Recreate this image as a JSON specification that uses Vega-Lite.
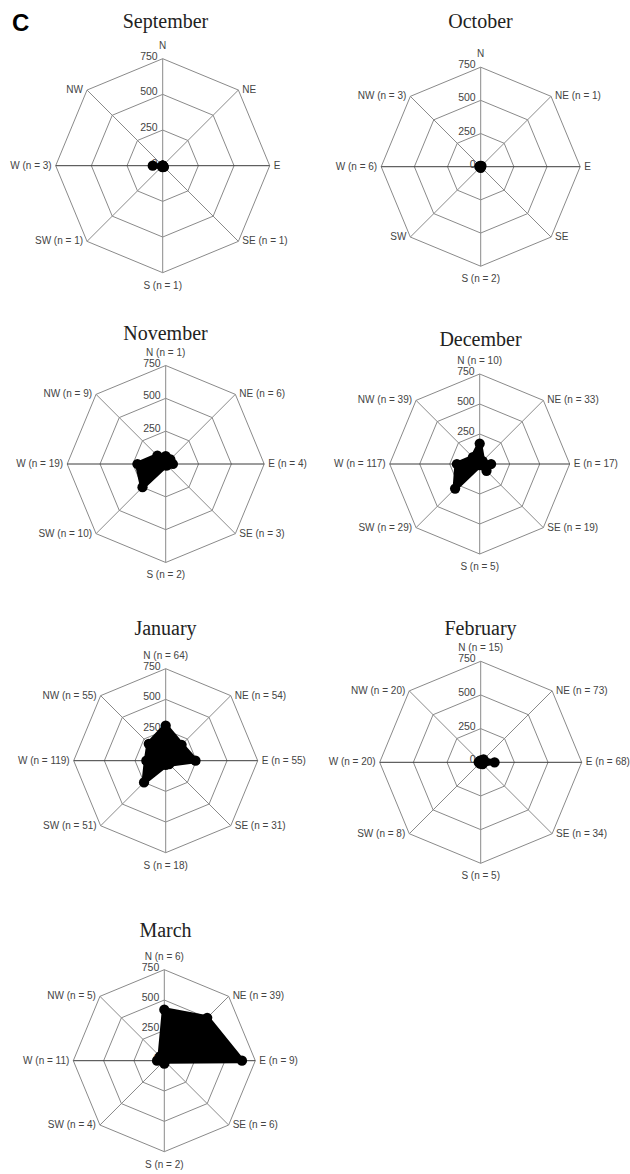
{
"$schema": "https://vega.github.io/schema/vega-lite/v6.json",
"background": "white",
"padding": {"left": 0, "right": 0, "top": 12, "bottom": 0},
"title": {"text": "C", "anchor": "start", "font": "Liberation Sans", "fontSize": 24, "fontWeight": "bold", "color": "#000", "offset": -43, "baseline": "alphabetic", "dx": 12},
"columns": 2,
"spacing": {"row": 26, "column": 0},
"bounds": "flush",
"align": "each",
"datasets": {
"grid": [
{"ring":250,"dir":"N"},{"ring":250,"dir":"NE"},{"ring":250,"dir":"E"},{"ring":250,"dir":"SE"},{"ring":250,"dir":"S"},{"ring":250,"dir":"SW"},{"ring":250,"dir":"W"},{"ring":250,"dir":"NW"},
{"ring":500,"dir":"N"},{"ring":500,"dir":"NE"},{"ring":500,"dir":"E"},{"ring":500,"dir":"SE"},{"ring":500,"dir":"S"},{"ring":500,"dir":"SW"},{"ring":500,"dir":"W"},{"ring":500,"dir":"NW"},
{"ring":750,"dir":"N"},{"ring":750,"dir":"NE"},{"ring":750,"dir":"E"},{"ring":750,"dir":"SE"},{"ring":750,"dir":"S"},{"ring":750,"dir":"SW"},{"ring":750,"dir":"W"},{"ring":750,"dir":"NW"}
],
"ticks": [{"v":0},{"v":250},{"v":500},{"v":750}],
"obs": [
{"month":"September","dir":"N","value":0,"label":"N"},
{"month":"September","dir":"NE","value":0,"label":"NE"},
{"month":"September","dir":"E","value":0,"label":"E"},
{"month":"September","dir":"SE","value":12,"label":"SE (n = 1)"},
{"month":"September","dir":"S","value":10,"label":"S (n = 1)"},
{"month":"September","dir":"SW","value":8,"label":"SW (n = 1)"},
{"month":"September","dir":"W","value":70,"label":"W (n = 3)"},
{"month":"September","dir":"NW","value":0,"label":"NW"},
{"month":"October","dir":"N","value":0,"label":"N"},
{"month":"October","dir":"NE","value":8,"label":"NE (n = 1)"},
{"month":"October","dir":"E","value":0,"label":"E"},
{"month":"October","dir":"SE","value":0,"label":"SE"},
{"month":"October","dir":"S","value":8,"label":"S (n = 2)"},
{"month":"October","dir":"SW","value":0,"label":"SW"},
{"month":"October","dir":"W","value":10,"label":"W (n = 6)"},
{"month":"October","dir":"NW","value":8,"label":"NW (n = 3)"},
{"month":"November","dir":"N","value":60,"label":"N (n = 1)"},
{"month":"November","dir":"NE","value":50,"label":"NE (n = 6)"},
{"month":"November","dir":"E","value":55,"label":"E (n = 4)"},
{"month":"November","dir":"SE","value":15,"label":"SE (n = 3)"},
{"month":"November","dir":"S","value":10,"label":"S (n = 2)"},
{"month":"November","dir":"SW","value":250,"label":"SW (n = 10)"},
{"month":"November","dir":"W","value":215,"label":"W (n = 19)"},
{"month":"November","dir":"NW","value":90,"label":"NW (n = 9)"},
{"month":"December","dir":"N","value":170,"label":"N (n = 10)"},
{"month":"December","dir":"NE","value":35,"label":"NE (n = 33)"},
{"month":"December","dir":"E","value":95,"label":"E (n = 17)"},
{"month":"December","dir":"SE","value":80,"label":"SE (n = 19)"},
{"month":"December","dir":"S","value":10,"label":"S (n = 5)"},
{"month":"December","dir":"SW","value":290,"label":"SW (n = 29)"},
{"month":"December","dir":"W","value":190,"label":"W (n = 117)"},
{"month":"December","dir":"NW","value":80,"label":"NW (n = 39)"},
{"month":"January","dir":"N","value":285,"label":"N (n = 64)"},
{"month":"January","dir":"NE","value":183,"label":"NE (n = 54)"},
{"month":"January","dir":"E","value":243,"label":"E (n = 55)"},
{"month":"January","dir":"SE","value":40,"label":"SE (n = 31)"},
{"month":"January","dir":"S","value":35,"label":"S (n = 18)"},
{"month":"January","dir":"SW","value":250,"label":"SW (n = 51)"},
{"month":"January","dir":"W","value":158,"label":"W (n = 119)"},
{"month":"January","dir":"NW","value":195,"label":"NW (n = 55)"},
{"month":"February","dir":"N","value":15,"label":"N (n = 15)"},
{"month":"February","dir":"NE","value":30,"label":"NE (n = 73)"},
{"month":"February","dir":"E","value":103,"label":"E (n = 68)"},
{"month":"February","dir":"SE","value":20,"label":"SE (n = 34)"},
{"month":"February","dir":"S","value":10,"label":"S (n = 5)"},
{"month":"February","dir":"SW","value":10,"label":"SW (n = 8)"},
{"month":"February","dir":"W","value":15,"label":"W (n = 20)"},
{"month":"February","dir":"NW","value":12,"label":"NW (n = 20)"},
{"month":"March","dir":"N","value":420,"label":"N (n = 6)"},
{"month":"March","dir":"NE","value":500,"label":"NE (n = 39)"},
{"month":"March","dir":"E","value":640,"label":"E (n = 9)"},
{"month":"March","dir":"SE","value":5,"label":"SE (n = 6)"},
{"month":"March","dir":"S","value":25,"label":"S (n = 2)"},
{"month":"March","dir":"SW","value":5,"label":"SW (n = 4)"},
{"month":"March","dir":"W","value":60,"label":"W (n = 11)"},
{"month":"March","dir":"NW","value":50,"label":"NW (n = 5)"}
]
},
"concat": [
{
"width": 315, "height": 292,
"title": {"text": "September"},
"encoding": {
"x": {"field": "px", "type": "quantitative", "axis": null, "scale": {"domain": [-1140.4, 1067.5], "nice": false, "zero": false}},
"y": {"field": "py", "type": "quantitative", "axis": null, "scale": {"domain": [-1137.6, 909.1], "nice": false, "zero": false}}
},
"layer": [
{"data": {"name": "grid"}, "transform": [{"calculate": "indexof(['N','NE','E','SE','S','SW','W','NW'], datum.dir)", "as": "i"}, {"calculate": "datum.ring * sin(datum.i * PI / 4)", "as": "px"}, {"calculate": "datum.ring * cos(datum.i * PI / 4)", "as": "py"}],
 "mark": {"type": "line", "interpolate": "linear-closed", "stroke": "#8a8a8a", "strokeWidth": 1},
 "encoding": {"detail": {"field": "ring", "type": "nominal"}, "order": {"field": "i", "type": "quantitative"}}},
{"data": {"name": "grid"}, "transform": [{"filter": "datum.ring === 750"}, {"calculate": "indexof(['N','NE','E','SE','S','SW','W','NW'], datum.dir)", "as": "i"}, {"calculate": "datum.ring * sin(datum.i * PI / 4)", "as": "px"}, {"calculate": "datum.ring * cos(datum.i * PI / 4)", "as": "py"}],
 "mark": {"type": "rule", "strokeWidth": 1},
 "encoding": {"x2": {"datum": 0}, "y2": {"datum": 0}, "color": {"condition": {"test": "datum.dir === 'E' || datum.dir === 'W'", "value": "#3a3a3a"}, "value": "#8a8a8a"}}},
{"data": {"name": "ticks"}, "transform": [{"calculate": "0", "as": "px"}, {"calculate": "datum.v", "as": "py"}],
 "mark": {"type": "text", "align": "right", "baseline": "middle", "dx": -5, "dy": -2, "fontSize": 10.5, "font": "Liberation Sans", "color": "#444"},
 "encoding": {"text": {"field": "v", "type": "quantitative"}}},
{"data": {"name": "obs"}, "transform": [{"filter": "datum.month === 'September'"}, {"calculate": "indexof(['N','NE','E','SE','S','SW','W','NW'], datum.dir)", "as": "i"}, {"calculate": "datum.value * sin(datum.i * PI / 4)", "as": "px"}, {"calculate": "datum.value * cos(datum.i * PI / 4)", "as": "py"}],
 "mark": {"type": "line", "interpolate": "linear-closed", "fill": "#000", "stroke": "#000", "strokeWidth": 5, "strokeJoin": "round"},
 "encoding": {"order": {"field": "i", "type": "quantitative"}}},
{"data": {"name": "obs"}, "transform": [{"filter": "datum.month === 'September'"}, {"calculate": "indexof(['N','NE','E','SE','S','SW','W','NW'], datum.dir)", "as": "i"}, {"calculate": "datum.value * sin(datum.i * PI / 4)", "as": "px"}, {"calculate": "datum.value * cos(datum.i * PI / 4)", "as": "py"}],
 "mark": {"type": "circle", "size": 105, "color": "#000", "opacity": 1}},
{"data": {"name": "obs"}, "transform": [{"filter": "datum.month === 'September'"}, {"filter": {"field": "dir", "oneOf": ["NE", "E", "SE"]}}, {"calculate": "indexof(['N','NE','E','SE','S','SW','W','NW'], datum.dir)", "as": "i"}, {"calculate": "750 * sin(datum.i * PI / 4)", "as": "px"}, {"calculate": "750 * cos(datum.i * PI / 4)", "as": "py"}],
 "mark": {"type": "text", "align": "left", "baseline": "middle", "dx": 4, "fontSize": 10, "font": "Liberation Sans", "color": "#444"},
 "encoding": {"text": {"field": "label"}}},
{"data": {"name": "obs"}, "transform": [{"filter": "datum.month === 'September'"}, {"filter": {"field": "dir", "oneOf": ["SW", "W", "NW"]}}, {"calculate": "indexof(['N','NE','E','SE','S','SW','W','NW'], datum.dir)", "as": "i"}, {"calculate": "750 * sin(datum.i * PI / 4)", "as": "px"}, {"calculate": "750 * cos(datum.i * PI / 4)", "as": "py"}],
 "mark": {"type": "text", "align": "right", "baseline": "middle", "dx": -4, "fontSize": 10, "font": "Liberation Sans", "color": "#444"},
 "encoding": {"text": {"field": "label"}}},
{"data": {"name": "obs"}, "transform": [{"filter": "datum.month === 'September' && datum.dir === 'N'"}, {"calculate": "0", "as": "px"}, {"calculate": "750", "as": "py"}],
 "mark": {"type": "text", "align": "center", "baseline": "middle", "dy": -13, "fontSize": 10, "font": "Liberation Sans", "color": "#444"},
 "encoding": {"text": {"field": "label"}}},
{"data": {"name": "obs"}, "transform": [{"filter": "datum.month === 'September' && datum.dir === 'S'"}, {"calculate": "0", "as": "px"}, {"calculate": "-750", "as": "py"}],
 "mark": {"type": "text", "align": "center", "baseline": "middle", "dy": 13, "fontSize": 10, "font": "Liberation Sans", "color": "#444"},
 "encoding": {"text": {"field": "label"}}}
]
},
{
"width": 315, "height": 292,
"title": {"text": "October"},
"encoding": {
"x": {"field": "px", "type": "quantitative", "axis": null, "scale": {"domain": [-1249.0, 1125.4], "nice": false, "zero": false}},
"y": {"field": "py", "type": "quantitative", "axis": null, "scale": {"domain": [-1215.8, 985.2], "nice": false, "zero": false}}
},
"layer": [
{"data": {"name": "grid"}, "transform": [{"calculate": "indexof(['N','NE','E','SE','S','SW','W','NW'], datum.dir)", "as": "i"}, {"calculate": "datum.ring * sin(datum.i * PI / 4)", "as": "px"}, {"calculate": "datum.ring * cos(datum.i * PI / 4)", "as": "py"}],
 "mark": {"type": "line", "interpolate": "linear-closed", "stroke": "#8a8a8a", "strokeWidth": 1},
 "encoding": {"detail": {"field": "ring", "type": "nominal"}, "order": {"field": "i", "type": "quantitative"}}},
{"data": {"name": "grid"}, "transform": [{"filter": "datum.ring === 750"}, {"calculate": "indexof(['N','NE','E','SE','S','SW','W','NW'], datum.dir)", "as": "i"}, {"calculate": "datum.ring * sin(datum.i * PI / 4)", "as": "px"}, {"calculate": "datum.ring * cos(datum.i * PI / 4)", "as": "py"}],
 "mark": {"type": "rule", "strokeWidth": 1},
 "encoding": {"x2": {"datum": 0}, "y2": {"datum": 0}, "color": {"condition": {"test": "datum.dir === 'E' || datum.dir === 'W'", "value": "#3a3a3a"}, "value": "#8a8a8a"}}},
{"data": {"name": "ticks"}, "transform": [{"calculate": "0", "as": "px"}, {"calculate": "datum.v", "as": "py"}],
 "mark": {"type": "text", "align": "right", "baseline": "middle", "dx": -5, "dy": -2, "fontSize": 10.5, "font": "Liberation Sans", "color": "#444"},
 "encoding": {"text": {"field": "v", "type": "quantitative"}}},
{"data": {"name": "obs"}, "transform": [{"filter": "datum.month === 'October'"}, {"calculate": "indexof(['N','NE','E','SE','S','SW','W','NW'], datum.dir)", "as": "i"}, {"calculate": "datum.value * sin(datum.i * PI / 4)", "as": "px"}, {"calculate": "datum.value * cos(datum.i * PI / 4)", "as": "py"}],
 "mark": {"type": "line", "interpolate": "linear-closed", "fill": "#000", "stroke": "#000", "strokeWidth": 5, "strokeJoin": "round"},
 "encoding": {"order": {"field": "i", "type": "quantitative"}}},
{"data": {"name": "obs"}, "transform": [{"filter": "datum.month === 'October'"}, {"calculate": "indexof(['N','NE','E','SE','S','SW','W','NW'], datum.dir)", "as": "i"}, {"calculate": "datum.value * sin(datum.i * PI / 4)", "as": "px"}, {"calculate": "datum.value * cos(datum.i * PI / 4)", "as": "py"}],
 "mark": {"type": "circle", "size": 105, "color": "#000", "opacity": 1}},
{"data": {"name": "obs"}, "transform": [{"filter": "datum.month === 'October'"}, {"filter": {"field": "dir", "oneOf": ["NE", "E", "SE"]}}, {"calculate": "indexof(['N','NE','E','SE','S','SW','W','NW'], datum.dir)", "as": "i"}, {"calculate": "750 * sin(datum.i * PI / 4)", "as": "px"}, {"calculate": "750 * cos(datum.i * PI / 4)", "as": "py"}],
 "mark": {"type": "text", "align": "left", "baseline": "middle", "dx": 4, "fontSize": 10, "font": "Liberation Sans", "color": "#444"},
 "encoding": {"text": {"field": "label"}}},
{"data": {"name": "obs"}, "transform": [{"filter": "datum.month === 'October'"}, {"filter": {"field": "dir", "oneOf": ["SW", "W", "NW"]}}, {"calculate": "indexof(['N','NE','E','SE','S','SW','W','NW'], datum.dir)", "as": "i"}, {"calculate": "750 * sin(datum.i * PI / 4)", "as": "px"}, {"calculate": "750 * cos(datum.i * PI / 4)", "as": "py"}],
 "mark": {"type": "text", "align": "right", "baseline": "middle", "dx": -4, "fontSize": 10, "font": "Liberation Sans", "color": "#444"},
 "encoding": {"text": {"field": "label"}}},
{"data": {"name": "obs"}, "transform": [{"filter": "datum.month === 'October' && datum.dir === 'N'"}, {"calculate": "0", "as": "px"}, {"calculate": "750", "as": "py"}],
 "mark": {"type": "text", "align": "center", "baseline": "middle", "dy": -13, "fontSize": 10, "font": "Liberation Sans", "color": "#444"},
 "encoding": {"text": {"field": "label"}}},
{"data": {"name": "obs"}, "transform": [{"filter": "datum.month === 'October' && datum.dir === 'S'"}, {"calculate": "0", "as": "px"}, {"calculate": "-750", "as": "py"}],
 "mark": {"type": "text", "align": "center", "baseline": "middle", "dy": 13, "fontSize": 10, "font": "Liberation Sans", "color": "#444"},
 "encoding": {"text": {"field": "label"}}}
]
},
{
"width": 315, "height": 263,
"title": {"text": "November"},
"encoding": {
"x": {"field": "px", "type": "quantitative", "axis": null, "scale": {"domain": [-1261.7, 1136.8], "nice": false, "zero": false}},
"y": {"field": "py", "type": "quantitative", "axis": null, "scale": {"domain": [-1165.0, 837.6], "nice": false, "zero": false}}
},
"layer": [
{"data": {"name": "grid"}, "transform": [{"calculate": "indexof(['N','NE','E','SE','S','SW','W','NW'], datum.dir)", "as": "i"}, {"calculate": "datum.ring * sin(datum.i * PI / 4)", "as": "px"}, {"calculate": "datum.ring * cos(datum.i * PI / 4)", "as": "py"}],
 "mark": {"type": "line", "interpolate": "linear-closed", "stroke": "#8a8a8a", "strokeWidth": 1},
 "encoding": {"detail": {"field": "ring", "type": "nominal"}, "order": {"field": "i", "type": "quantitative"}}},
{"data": {"name": "grid"}, "transform": [{"filter": "datum.ring === 750"}, {"calculate": "indexof(['N','NE','E','SE','S','SW','W','NW'], datum.dir)", "as": "i"}, {"calculate": "datum.ring * sin(datum.i * PI / 4)", "as": "px"}, {"calculate": "datum.ring * cos(datum.i * PI / 4)", "as": "py"}],
 "mark": {"type": "rule", "strokeWidth": 1},
 "encoding": {"x2": {"datum": 0}, "y2": {"datum": 0}, "color": {"condition": {"test": "datum.dir === 'E' || datum.dir === 'W'", "value": "#3a3a3a"}, "value": "#8a8a8a"}}},
{"data": {"name": "ticks"}, "transform": [{"calculate": "0", "as": "px"}, {"calculate": "datum.v", "as": "py"}],
 "mark": {"type": "text", "align": "right", "baseline": "middle", "dx": -5, "dy": -2, "fontSize": 10.5, "font": "Liberation Sans", "color": "#444"},
 "encoding": {"text": {"field": "v", "type": "quantitative"}}},
{"data": {"name": "obs"}, "transform": [{"filter": "datum.month === 'November'"}, {"calculate": "indexof(['N','NE','E','SE','S','SW','W','NW'], datum.dir)", "as": "i"}, {"calculate": "datum.value * sin(datum.i * PI / 4)", "as": "px"}, {"calculate": "datum.value * cos(datum.i * PI / 4)", "as": "py"}],
 "mark": {"type": "line", "interpolate": "linear-closed", "fill": "#000", "stroke": "#000", "strokeWidth": 5, "strokeJoin": "round"},
 "encoding": {"order": {"field": "i", "type": "quantitative"}}},
{"data": {"name": "obs"}, "transform": [{"filter": "datum.month === 'November'"}, {"calculate": "indexof(['N','NE','E','SE','S','SW','W','NW'], datum.dir)", "as": "i"}, {"calculate": "datum.value * sin(datum.i * PI / 4)", "as": "px"}, {"calculate": "datum.value * cos(datum.i * PI / 4)", "as": "py"}],
 "mark": {"type": "circle", "size": 105, "color": "#000", "opacity": 1}},
{"data": {"name": "obs"}, "transform": [{"filter": "datum.month === 'November'"}, {"filter": {"field": "dir", "oneOf": ["NE", "E", "SE"]}}, {"calculate": "indexof(['N','NE','E','SE','S','SW','W','NW'], datum.dir)", "as": "i"}, {"calculate": "750 * sin(datum.i * PI / 4)", "as": "px"}, {"calculate": "750 * cos(datum.i * PI / 4)", "as": "py"}],
 "mark": {"type": "text", "align": "left", "baseline": "middle", "dx": 4, "fontSize": 10, "font": "Liberation Sans", "color": "#444"},
 "encoding": {"text": {"field": "label"}}},
{"data": {"name": "obs"}, "transform": [{"filter": "datum.month === 'November'"}, {"filter": {"field": "dir", "oneOf": ["SW", "W", "NW"]}}, {"calculate": "indexof(['N','NE','E','SE','S','SW','W','NW'], datum.dir)", "as": "i"}, {"calculate": "750 * sin(datum.i * PI / 4)", "as": "px"}, {"calculate": "750 * cos(datum.i * PI / 4)", "as": "py"}],
 "mark": {"type": "text", "align": "right", "baseline": "middle", "dx": -4, "fontSize": 10, "font": "Liberation Sans", "color": "#444"},
 "encoding": {"text": {"field": "label"}}},
{"data": {"name": "obs"}, "transform": [{"filter": "datum.month === 'November' && datum.dir === 'N'"}, {"calculate": "0", "as": "px"}, {"calculate": "750", "as": "py"}],
 "mark": {"type": "text", "align": "center", "baseline": "middle", "dy": -13, "fontSize": 10, "font": "Liberation Sans", "color": "#444"},
 "encoding": {"text": {"field": "label"}}},
{"data": {"name": "obs"}, "transform": [{"filter": "datum.month === 'November' && datum.dir === 'S'"}, {"calculate": "0", "as": "px"}, {"calculate": "-750", "as": "py"}],
 "mark": {"type": "text", "align": "center", "baseline": "middle", "dy": 13, "fontSize": 10, "font": "Liberation Sans", "color": "#444"},
 "encoding": {"text": {"field": "label"}}}
]
},
{
"width": 315, "height": 263,
"title": {"text": "December"},
"encoding": {
"x": {"field": "px", "type": "quantitative", "axis": null, "scale": {"domain": [-1372.5, 1252.5], "nice": false, "zero": false}},
"y": {"field": "py", "type": "quantitative", "axis": null, "scale": {"domain": [-1275.0, 916.7], "nice": false, "zero": false}}
},
"layer": [
{"data": {"name": "grid"}, "transform": [{"calculate": "indexof(['N','NE','E','SE','S','SW','W','NW'], datum.dir)", "as": "i"}, {"calculate": "datum.ring * sin(datum.i * PI / 4)", "as": "px"}, {"calculate": "datum.ring * cos(datum.i * PI / 4)", "as": "py"}],
 "mark": {"type": "line", "interpolate": "linear-closed", "stroke": "#8a8a8a", "strokeWidth": 1},
 "encoding": {"detail": {"field": "ring", "type": "nominal"}, "order": {"field": "i", "type": "quantitative"}}},
{"data": {"name": "grid"}, "transform": [{"filter": "datum.ring === 750"}, {"calculate": "indexof(['N','NE','E','SE','S','SW','W','NW'], datum.dir)", "as": "i"}, {"calculate": "datum.ring * sin(datum.i * PI / 4)", "as": "px"}, {"calculate": "datum.ring * cos(datum.i * PI / 4)", "as": "py"}],
 "mark": {"type": "rule", "strokeWidth": 1},
 "encoding": {"x2": {"datum": 0}, "y2": {"datum": 0}, "color": {"condition": {"test": "datum.dir === 'E' || datum.dir === 'W'", "value": "#3a3a3a"}, "value": "#8a8a8a"}}},
{"data": {"name": "ticks"}, "transform": [{"calculate": "0", "as": "px"}, {"calculate": "datum.v", "as": "py"}],
 "mark": {"type": "text", "align": "right", "baseline": "middle", "dx": -5, "dy": -2, "fontSize": 10.5, "font": "Liberation Sans", "color": "#444"},
 "encoding": {"text": {"field": "v", "type": "quantitative"}}},
{"data": {"name": "obs"}, "transform": [{"filter": "datum.month === 'December'"}, {"calculate": "indexof(['N','NE','E','SE','S','SW','W','NW'], datum.dir)", "as": "i"}, {"calculate": "datum.value * sin(datum.i * PI / 4)", "as": "px"}, {"calculate": "datum.value * cos(datum.i * PI / 4)", "as": "py"}],
 "mark": {"type": "line", "interpolate": "linear-closed", "fill": "#000", "stroke": "#000", "strokeWidth": 5, "strokeJoin": "round"},
 "encoding": {"order": {"field": "i", "type": "quantitative"}}},
{"data": {"name": "obs"}, "transform": [{"filter": "datum.month === 'December'"}, {"calculate": "indexof(['N','NE','E','SE','S','SW','W','NW'], datum.dir)", "as": "i"}, {"calculate": "datum.value * sin(datum.i * PI / 4)", "as": "px"}, {"calculate": "datum.value * cos(datum.i * PI / 4)", "as": "py"}],
 "mark": {"type": "circle", "size": 105, "color": "#000", "opacity": 1}},
{"data": {"name": "obs"}, "transform": [{"filter": "datum.month === 'December'"}, {"filter": {"field": "dir", "oneOf": ["NE", "E", "SE"]}}, {"calculate": "indexof(['N','NE','E','SE','S','SW','W','NW'], datum.dir)", "as": "i"}, {"calculate": "750 * sin(datum.i * PI / 4)", "as": "px"}, {"calculate": "750 * cos(datum.i * PI / 4)", "as": "py"}],
 "mark": {"type": "text", "align": "left", "baseline": "middle", "dx": 4, "fontSize": 10, "font": "Liberation Sans", "color": "#444"},
 "encoding": {"text": {"field": "label"}}},
{"data": {"name": "obs"}, "transform": [{"filter": "datum.month === 'December'"}, {"filter": {"field": "dir", "oneOf": ["SW", "W", "NW"]}}, {"calculate": "indexof(['N','NE','E','SE','S','SW','W','NW'], datum.dir)", "as": "i"}, {"calculate": "750 * sin(datum.i * PI / 4)", "as": "px"}, {"calculate": "750 * cos(datum.i * PI / 4)", "as": "py"}],
 "mark": {"type": "text", "align": "right", "baseline": "middle", "dx": -4, "fontSize": 10, "font": "Liberation Sans", "color": "#444"},
 "encoding": {"text": {"field": "label"}}},
{"data": {"name": "obs"}, "transform": [{"filter": "datum.month === 'December' && datum.dir === 'N'"}, {"calculate": "0", "as": "px"}, {"calculate": "750", "as": "py"}],
 "mark": {"type": "text", "align": "center", "baseline": "middle", "dy": -13, "fontSize": 10, "font": "Liberation Sans", "color": "#444"},
 "encoding": {"text": {"field": "label"}}},
{"data": {"name": "obs"}, "transform": [{"filter": "datum.month === 'December' && datum.dir === 'S'"}, {"calculate": "0", "as": "px"}, {"calculate": "-750", "as": "py"}],
 "mark": {"type": "text", "align": "center", "baseline": "middle", "dy": 13, "fontSize": 10, "font": "Liberation Sans", "color": "#444"},
 "encoding": {"text": {"field": "label"}}}
]
},
{
"width": 315, "height": 276,
"title": {"text": "January"},
"encoding": {
"x": {"field": "px", "type": "quantitative", "axis": null, "scale": {"domain": [-1350.8, 1217.1], "nice": false, "zero": false}},
"y": {"field": "py", "type": "quantitative", "axis": null, "scale": {"domain": [-1290.5, 959.5], "nice": false, "zero": false}}
},
"layer": [
{"data": {"name": "grid"}, "transform": [{"calculate": "indexof(['N','NE','E','SE','S','SW','W','NW'], datum.dir)", "as": "i"}, {"calculate": "datum.ring * sin(datum.i * PI / 4)", "as": "px"}, {"calculate": "datum.ring * cos(datum.i * PI / 4)", "as": "py"}],
 "mark": {"type": "line", "interpolate": "linear-closed", "stroke": "#8a8a8a", "strokeWidth": 1},
 "encoding": {"detail": {"field": "ring", "type": "nominal"}, "order": {"field": "i", "type": "quantitative"}}},
{"data": {"name": "grid"}, "transform": [{"filter": "datum.ring === 750"}, {"calculate": "indexof(['N','NE','E','SE','S','SW','W','NW'], datum.dir)", "as": "i"}, {"calculate": "datum.ring * sin(datum.i * PI / 4)", "as": "px"}, {"calculate": "datum.ring * cos(datum.i * PI / 4)", "as": "py"}],
 "mark": {"type": "rule", "strokeWidth": 1},
 "encoding": {"x2": {"datum": 0}, "y2": {"datum": 0}, "color": {"condition": {"test": "datum.dir === 'E' || datum.dir === 'W'", "value": "#3a3a3a"}, "value": "#8a8a8a"}}},
{"data": {"name": "ticks"}, "transform": [{"calculate": "0", "as": "px"}, {"calculate": "datum.v", "as": "py"}],
 "mark": {"type": "text", "align": "right", "baseline": "middle", "dx": -5, "dy": -2, "fontSize": 10.5, "font": "Liberation Sans", "color": "#444"},
 "encoding": {"text": {"field": "v", "type": "quantitative"}}},
{"data": {"name": "obs"}, "transform": [{"filter": "datum.month === 'January'"}, {"calculate": "indexof(['N','NE','E','SE','S','SW','W','NW'], datum.dir)", "as": "i"}, {"calculate": "datum.value * sin(datum.i * PI / 4)", "as": "px"}, {"calculate": "datum.value * cos(datum.i * PI / 4)", "as": "py"}],
 "mark": {"type": "line", "interpolate": "linear-closed", "fill": "#000", "stroke": "#000", "strokeWidth": 5, "strokeJoin": "round"},
 "encoding": {"order": {"field": "i", "type": "quantitative"}}},
{"data": {"name": "obs"}, "transform": [{"filter": "datum.month === 'January'"}, {"calculate": "indexof(['N','NE','E','SE','S','SW','W','NW'], datum.dir)", "as": "i"}, {"calculate": "datum.value * sin(datum.i * PI / 4)", "as": "px"}, {"calculate": "datum.value * cos(datum.i * PI / 4)", "as": "py"}],
 "mark": {"type": "circle", "size": 105, "color": "#000", "opacity": 1}},
{"data": {"name": "obs"}, "transform": [{"filter": "datum.month === 'January'"}, {"filter": {"field": "dir", "oneOf": ["NE", "E", "SE"]}}, {"calculate": "indexof(['N','NE','E','SE','S','SW','W','NW'], datum.dir)", "as": "i"}, {"calculate": "750 * sin(datum.i * PI / 4)", "as": "px"}, {"calculate": "750 * cos(datum.i * PI / 4)", "as": "py"}],
 "mark": {"type": "text", "align": "left", "baseline": "middle", "dx": 4, "fontSize": 10, "font": "Liberation Sans", "color": "#444"},
 "encoding": {"text": {"field": "label"}}},
{"data": {"name": "obs"}, "transform": [{"filter": "datum.month === 'January'"}, {"filter": {"field": "dir", "oneOf": ["SW", "W", "NW"]}}, {"calculate": "indexof(['N','NE','E','SE','S','SW','W','NW'], datum.dir)", "as": "i"}, {"calculate": "750 * sin(datum.i * PI / 4)", "as": "px"}, {"calculate": "750 * cos(datum.i * PI / 4)", "as": "py"}],
 "mark": {"type": "text", "align": "right", "baseline": "middle", "dx": -4, "fontSize": 10, "font": "Liberation Sans", "color": "#444"},
 "encoding": {"text": {"field": "label"}}},
{"data": {"name": "obs"}, "transform": [{"filter": "datum.month === 'January' && datum.dir === 'N'"}, {"calculate": "0", "as": "px"}, {"calculate": "750", "as": "py"}],
 "mark": {"type": "text", "align": "center", "baseline": "middle", "dy": -13, "fontSize": 10, "font": "Liberation Sans", "color": "#444"},
 "encoding": {"text": {"field": "label"}}},
{"data": {"name": "obs"}, "transform": [{"filter": "datum.month === 'January' && datum.dir === 'S'"}, {"calculate": "0", "as": "px"}, {"calculate": "-750", "as": "py"}],
 "mark": {"type": "text", "align": "center", "baseline": "middle", "dy": 13, "fontSize": 10, "font": "Liberation Sans", "color": "#444"},
 "encoding": {"text": {"field": "label"}}}
]
},
{
"width": 315, "height": 276,
"title": {"text": "February"},
"encoding": {
"x": {"field": "px", "type": "quantitative", "axis": null, "scale": {"domain": [-1230.4, 1108.7], "nice": false, "zero": false}},
"y": {"field": "py", "type": "quantitative", "axis": null, "scale": {"domain": [-1163.6, 885.9], "nice": false, "zero": false}}
},
"layer": [
{"data": {"name": "grid"}, "transform": [{"calculate": "indexof(['N','NE','E','SE','S','SW','W','NW'], datum.dir)", "as": "i"}, {"calculate": "datum.ring * sin(datum.i * PI / 4)", "as": "px"}, {"calculate": "datum.ring * cos(datum.i * PI / 4)", "as": "py"}],
 "mark": {"type": "line", "interpolate": "linear-closed", "stroke": "#8a8a8a", "strokeWidth": 1},
 "encoding": {"detail": {"field": "ring", "type": "nominal"}, "order": {"field": "i", "type": "quantitative"}}},
{"data": {"name": "grid"}, "transform": [{"filter": "datum.ring === 750"}, {"calculate": "indexof(['N','NE','E','SE','S','SW','W','NW'], datum.dir)", "as": "i"}, {"calculate": "datum.ring * sin(datum.i * PI / 4)", "as": "px"}, {"calculate": "datum.ring * cos(datum.i * PI / 4)", "as": "py"}],
 "mark": {"type": "rule", "strokeWidth": 1},
 "encoding": {"x2": {"datum": 0}, "y2": {"datum": 0}, "color": {"condition": {"test": "datum.dir === 'E' || datum.dir === 'W'", "value": "#3a3a3a"}, "value": "#8a8a8a"}}},
{"data": {"name": "ticks"}, "transform": [{"calculate": "0", "as": "px"}, {"calculate": "datum.v", "as": "py"}],
 "mark": {"type": "text", "align": "right", "baseline": "middle", "dx": -5, "dy": -2, "fontSize": 10.5, "font": "Liberation Sans", "color": "#444"},
 "encoding": {"text": {"field": "v", "type": "quantitative"}}},
{"data": {"name": "obs"}, "transform": [{"filter": "datum.month === 'February'"}, {"calculate": "indexof(['N','NE','E','SE','S','SW','W','NW'], datum.dir)", "as": "i"}, {"calculate": "datum.value * sin(datum.i * PI / 4)", "as": "px"}, {"calculate": "datum.value * cos(datum.i * PI / 4)", "as": "py"}],
 "mark": {"type": "line", "interpolate": "linear-closed", "fill": "#000", "stroke": "#000", "strokeWidth": 5, "strokeJoin": "round"},
 "encoding": {"order": {"field": "i", "type": "quantitative"}}},
{"data": {"name": "obs"}, "transform": [{"filter": "datum.month === 'February'"}, {"calculate": "indexof(['N','NE','E','SE','S','SW','W','NW'], datum.dir)", "as": "i"}, {"calculate": "datum.value * sin(datum.i * PI / 4)", "as": "px"}, {"calculate": "datum.value * cos(datum.i * PI / 4)", "as": "py"}],
 "mark": {"type": "circle", "size": 105, "color": "#000", "opacity": 1}},
{"data": {"name": "obs"}, "transform": [{"filter": "datum.month === 'February'"}, {"filter": {"field": "dir", "oneOf": ["NE", "E", "SE"]}}, {"calculate": "indexof(['N','NE','E','SE','S','SW','W','NW'], datum.dir)", "as": "i"}, {"calculate": "750 * sin(datum.i * PI / 4)", "as": "px"}, {"calculate": "750 * cos(datum.i * PI / 4)", "as": "py"}],
 "mark": {"type": "text", "align": "left", "baseline": "middle", "dx": 4, "fontSize": 10, "font": "Liberation Sans", "color": "#444"},
 "encoding": {"text": {"field": "label"}}},
{"data": {"name": "obs"}, "transform": [{"filter": "datum.month === 'February'"}, {"filter": {"field": "dir", "oneOf": ["SW", "W", "NW"]}}, {"calculate": "indexof(['N','NE','E','SE','S','SW','W','NW'], datum.dir)", "as": "i"}, {"calculate": "750 * sin(datum.i * PI / 4)", "as": "px"}, {"calculate": "750 * cos(datum.i * PI / 4)", "as": "py"}],
 "mark": {"type": "text", "align": "right", "baseline": "middle", "dx": -4, "fontSize": 10, "font": "Liberation Sans", "color": "#444"},
 "encoding": {"text": {"field": "label"}}},
{"data": {"name": "obs"}, "transform": [{"filter": "datum.month === 'February' && datum.dir === 'N'"}, {"calculate": "0", "as": "px"}, {"calculate": "750", "as": "py"}],
 "mark": {"type": "text", "align": "center", "baseline": "middle", "dy": -13, "fontSize": 10, "font": "Liberation Sans", "color": "#444"},
 "encoding": {"text": {"field": "label"}}},
{"data": {"name": "obs"}, "transform": [{"filter": "datum.month === 'February' && datum.dir === 'S'"}, {"calculate": "0", "as": "px"}, {"calculate": "-750", "as": "py"}],
 "mark": {"type": "text", "align": "center", "baseline": "middle", "dy": 13, "fontSize": 10, "font": "Liberation Sans", "color": "#444"},
 "encoding": {"text": {"field": "label"}}}
]
},
{
"width": 315, "height": 229,
"title": {"text": "March"},
"encoding": {
"x": {"field": "px", "type": "quantitative", "axis": null, "scale": {"domain": [-1354.1, 1242.0], "nice": false, "zero": false}},
"y": {"field": "py", "type": "quantitative", "axis": null, "scale": {"domain": [-933.8, 953.6], "nice": false, "zero": false}}
},
"layer": [
{"data": {"name": "grid"}, "transform": [{"calculate": "indexof(['N','NE','E','SE','S','SW','W','NW'], datum.dir)", "as": "i"}, {"calculate": "datum.ring * sin(datum.i * PI / 4)", "as": "px"}, {"calculate": "datum.ring * cos(datum.i * PI / 4)", "as": "py"}],
 "mark": {"type": "line", "interpolate": "linear-closed", "stroke": "#8a8a8a", "strokeWidth": 1},
 "encoding": {"detail": {"field": "ring", "type": "nominal"}, "order": {"field": "i", "type": "quantitative"}}},
{"data": {"name": "grid"}, "transform": [{"filter": "datum.ring === 750"}, {"calculate": "indexof(['N','NE','E','SE','S','SW','W','NW'], datum.dir)", "as": "i"}, {"calculate": "datum.ring * sin(datum.i * PI / 4)", "as": "px"}, {"calculate": "datum.ring * cos(datum.i * PI / 4)", "as": "py"}],
 "mark": {"type": "rule", "strokeWidth": 1},
 "encoding": {"x2": {"datum": 0}, "y2": {"datum": 0}, "color": {"condition": {"test": "datum.dir === 'E' || datum.dir === 'W'", "value": "#3a3a3a"}, "value": "#8a8a8a"}}},
{"data": {"name": "ticks"}, "transform": [{"calculate": "0", "as": "px"}, {"calculate": "datum.v", "as": "py"}],
 "mark": {"type": "text", "align": "right", "baseline": "middle", "dx": -5, "dy": -2, "fontSize": 10.5, "font": "Liberation Sans", "color": "#444"},
 "encoding": {"text": {"field": "v", "type": "quantitative"}}},
{"data": {"name": "obs"}, "transform": [{"filter": "datum.month === 'March'"}, {"calculate": "indexof(['N','NE','E','SE','S','SW','W','NW'], datum.dir)", "as": "i"}, {"calculate": "datum.value * sin(datum.i * PI / 4)", "as": "px"}, {"calculate": "datum.value * cos(datum.i * PI / 4)", "as": "py"}],
 "mark": {"type": "line", "interpolate": "linear-closed", "fill": "#000", "stroke": "#000", "strokeWidth": 5, "strokeJoin": "round"},
 "encoding": {"order": {"field": "i", "type": "quantitative"}}},
{"data": {"name": "obs"}, "transform": [{"filter": "datum.month === 'March'"}, {"calculate": "indexof(['N','NE','E','SE','S','SW','W','NW'], datum.dir)", "as": "i"}, {"calculate": "datum.value * sin(datum.i * PI / 4)", "as": "px"}, {"calculate": "datum.value * cos(datum.i * PI / 4)", "as": "py"}],
 "mark": {"type": "circle", "size": 105, "color": "#000", "opacity": 1}},
{"data": {"name": "obs"}, "transform": [{"filter": "datum.month === 'March'"}, {"filter": {"field": "dir", "oneOf": ["NE", "E", "SE"]}}, {"calculate": "indexof(['N','NE','E','SE','S','SW','W','NW'], datum.dir)", "as": "i"}, {"calculate": "750 * sin(datum.i * PI / 4)", "as": "px"}, {"calculate": "750 * cos(datum.i * PI / 4)", "as": "py"}],
 "mark": {"type": "text", "align": "left", "baseline": "middle", "dx": 4, "fontSize": 10, "font": "Liberation Sans", "color": "#444"},
 "encoding": {"text": {"field": "label"}}},
{"data": {"name": "obs"}, "transform": [{"filter": "datum.month === 'March'"}, {"filter": {"field": "dir", "oneOf": ["SW", "W", "NW"]}}, {"calculate": "indexof(['N','NE','E','SE','S','SW','W','NW'], datum.dir)", "as": "i"}, {"calculate": "750 * sin(datum.i * PI / 4)", "as": "px"}, {"calculate": "750 * cos(datum.i * PI / 4)", "as": "py"}],
 "mark": {"type": "text", "align": "right", "baseline": "middle", "dx": -4, "fontSize": 10, "font": "Liberation Sans", "color": "#444"},
 "encoding": {"text": {"field": "label"}}},
{"data": {"name": "obs"}, "transform": [{"filter": "datum.month === 'March' && datum.dir === 'N'"}, {"calculate": "0", "as": "px"}, {"calculate": "750", "as": "py"}],
 "mark": {"type": "text", "align": "center", "baseline": "middle", "dy": -13, "fontSize": 10, "font": "Liberation Sans", "color": "#444"},
 "encoding": {"text": {"field": "label"}}},
{"data": {"name": "obs"}, "transform": [{"filter": "datum.month === 'March' && datum.dir === 'S'"}, {"calculate": "0", "as": "px"}, {"calculate": "-750", "as": "py"}],
 "mark": {"type": "text", "align": "center", "baseline": "middle", "dy": 13, "fontSize": 10, "font": "Liberation Sans", "color": "#444"},
 "encoding": {"text": {"field": "label"}}}
]
}
],
"config": {
"view": {"stroke": null},
"title": {"font": "Liberation Serif", "fontSize": 20, "fontWeight": "normal", "color": "#222", "anchor": "middle", "offset": 4, "baseline": "bottom", "dx": 8}
}
}
